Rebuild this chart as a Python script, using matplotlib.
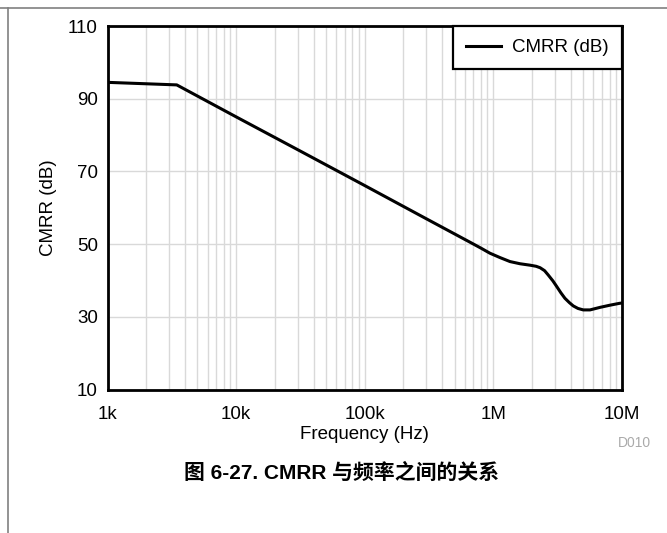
import matplotlib
matplotlib.use("Agg")
import matplotlib.pyplot as plt
from matplotlib.lines import Line2D

plt.rcParams['font.family'] = ['Liberation Sans', 'Noto Sans CJK SC', 'DejaVu Sans']

freq_hz = [1e3, 3.45e3, 1e4, 3e4, 1e5, 3e5, 6.6e5, 8e5, 9.4e5, 1.125e6, 1.346e6, 1.61e6,
           1.93e6, 2.15e6, 2.31e6, 2.5e6, 2.67e6, 2.9e6, 3.1e6, 3.35e6, 3.6e6, 3.9e6,
           4.18e6, 4.55e6, 5.0e6, 5.64e6, 6.75e6, 8.07e6, 9.53e6, 1e7]
cmrr_db = [94.5, 93.8, 85.0, 76.0, 66.1, 57.0, 50.5, 48.9, 47.5, 46.3, 45.2, 44.6,
           44.2, 43.9, 43.5, 42.7, 41.5, 39.9, 38.4, 36.6, 35.1, 33.9,
           33.0, 32.3, 31.9, 31.9, 32.6, 33.2, 33.7, 33.8]
xticks = [1e3, 1e4, 1e5, 1e6, 1e7]
xticklabels = ['1k', '10k', '100k', '1M', '10M']
yticks = [10, 30, 50, 70, 90, 110]

fig = plt.figure(figsize=(6.67, 5.33), dpi=100)
ax = fig.add_axes([0.1613, 0.2692, 0.7712, 0.682])

ax.plot(freq_hz, cmrr_db, color='black', lw=2.2, label='CMRR (dB)', zorder=3,
        solid_joinstyle='round')
ax.set_xscale('log')
ax.set_xlim(1e3, 1e7)
ax.set_ylim(10, 110)
ax.set_xticks(xticks)
ax.set_xticklabels(xticklabels)
ax.set_yticks(yticks)
ax.yaxis.set_minor_locator(matplotlib.ticker.NullLocator())
ax.xaxis.set_minor_locator(matplotlib.ticker.LogLocator(base=10, subs=range(2, 10)))
ax.xaxis.set_minor_formatter(matplotlib.ticker.NullFormatter())
ax.grid(True, which='both', color='#d9d9d9', lw=1.0)
ax.set_axisbelow(True)
ax.tick_params(which='both', length=0)
ax.tick_params(axis='x', pad=12, labelsize=13.5)
ax.tick_params(axis='y', pad=7, labelsize=13.5)
for s in ax.spines.values():
    s.set_linewidth(2.0)
    s.set_color('black')

ax.set_xlabel('Frequency (Hz)', fontsize=13.5, labelpad=2)
ax.set_ylabel('CMRR (dB)', fontsize=13.5, labelpad=8)

leg = ax.legend(loc='upper right', borderaxespad=0, fancybox=False, fontsize=13.5,
                handlelength=1.85, handletextpad=0.6, framealpha=1, borderpad=0.7)
leg.get_frame().set_edgecolor('black')
leg.get_frame().set_linewidth(1.6)

fig.text(651 / 667, 1 - 443 / 533, 'D010', ha='right', va='center', fontsize=10, color='#aaaaaa')
fig.text(342 / 667, 1 - 472.5 / 533, '图 6-27. CMRR 与频率之间的关系', ha='center', va='center',
         fontsize=15, fontweight='bold')

fig.add_artist(Line2D([0, 1], [1 - 8 / 533, 1 - 8 / 533], transform=fig.transFigure,
                      color='#808080', lw=1.2))
fig.add_artist(Line2D([8 / 667, 8 / 667], [0, 1 - 8 / 533], transform=fig.transFigure,
                      color='#808080', lw=1.2))

fig.savefig('out.png', dpi=100)
